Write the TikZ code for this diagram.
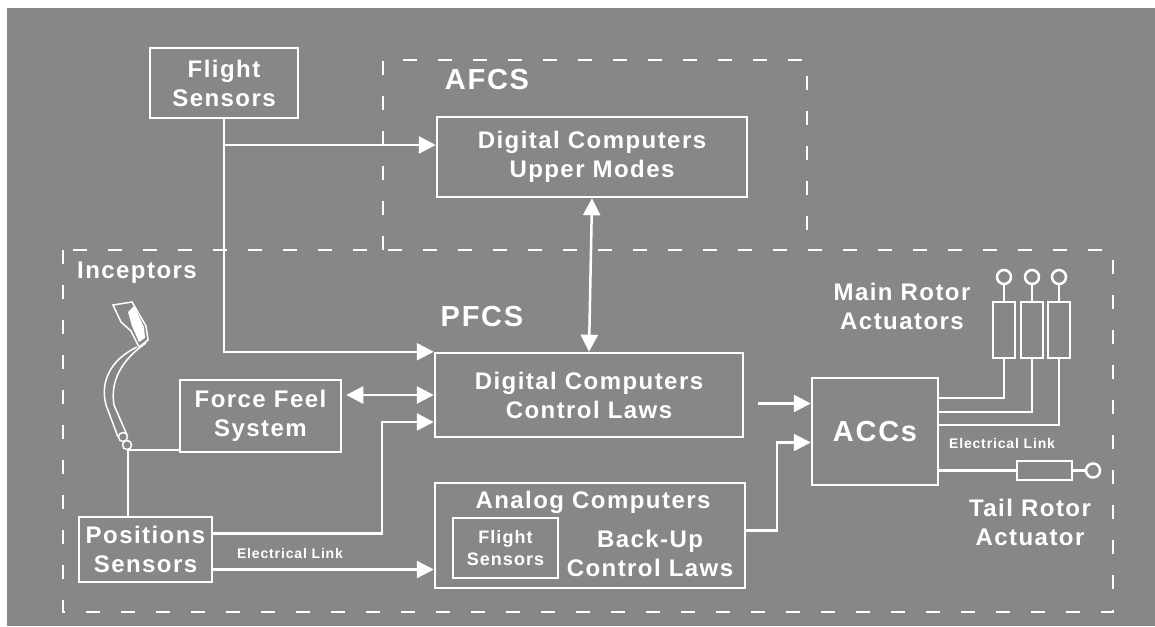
\documentclass[tikz,border=0pt]{standalone}
\usepackage{fontspec}
\usetikzlibrary{arrows.meta}
\newfontfamily\diagfont[LetterSpace=6]{Liberation Sans}
\newcommand{\boxfont}{\diagfont\bfseries\fontsize{24}{29}\selectfont}
\newcommand{\bigfont}{\diagfont\bfseries\fontsize{29}{32}\selectfont}
\newcommand{\smallfont}{\diagfont\bfseries\fontsize{18}{22}\selectfont}
\newcommand{\linkfont}{\diagfont\bfseries\fontsize{14}{16}\selectfont}
\definecolor{panel}{HTML}{878787}

\begin{document}
\begin{tikzpicture}[x=1pt, y=-1pt, line width=2.5pt, white,
    >={Triangle[length=17pt,width=17pt]},
    box/.style={draw, inner sep=0pt, align=center, font=\boxfont},
    lbl/.style={align=center, font=\boxfont},
    biglbl/.style={font=\bigfont},
    linklbl/.style={font=\linkfont},
    frame/.style={dash pattern=on 14pt off 21pt},
    stick/.style={line width=1.5pt},
    act/.style={draw, inner sep=0pt, minimum width=22, minimum height=56},
    pin/.style={draw, circle, inner sep=0pt, minimum size=14}]
    \useasboundingbox (0,0) rectangle (1155,626);
    \fill[panel] (7,8) rectangle (1155,626);

    % AFCS / PFCS frames
    \draw[frame] (383,250) -- (383,60) -- (807,60) -- (807,250);
    \draw[frame] (63,250) rectangle (1113,612);
    \node[biglbl] (afcs) at (487,80) {AFCS};
    \node[biglbl] (pfcs) at (482,317) {PFCS};
    \node[lbl] (incep) at (137,273) {Inceptors};

    % blocks
    \node[box, minimum width=148, minimum height=70] (fltsens) at (224,83) {Flight\\Sensors};
    \node[box, minimum width=310, minimum height=80] (upper) at (592,157) {Digital Computers\\Upper Modes};
    \node[box, minimum width=308, minimum height=84] (ctrllaws) at (589,395) {Digital Computers\\Control Laws};
    \node[box, minimum width=161, minimum height=72] (forcefeel) at (260.5,416) {Force Feel\\System};
    \node[box, minimum width=133, minimum height=65] (possens) at (145.5,549.5) {Positions\\Sensors};
    \node[box, minimum width=310, minimum height=105] (backup) at (590,535.5) {};
    \node[lbl] (analog) at (593,502) {Analog Computers};
    \node[box, font=\smallfont, minimum width=105, minimum height=60] (fltsens2) at (505.5,548) {Flight\\Sensors};
    \node[lbl] (backlaws) at (650,553) {Back-Up\\Control Laws};
    \node[box, font=\bigfont, minimum width=126, minimum height=107] (accs) at (875,431.5) {ACCs};

    % actuators
    \node[act] (act1) at (1004,330) {};
    \node[act] (act2) at (1032,330) {};
    \node[act] (act3) at (1059,330) {};
    \node[pin] (pin1) at (1004,277) {};
    \node[pin] (pin2) at (1032,277) {};
    \node[pin] (pin3) at (1059,277) {};
    \draw (pin1) -- (act1);
    \draw (pin2) -- (act2);
    \draw (pin3) -- (act3);
    \node[lbl] (mainlbl) at (902,306) {Main Rotor\\Actuators};
    \node[draw, inner sep=0pt, minimum width=55, minimum height=19] (tailact) at (1044.5,470.5) {};
    \node[pin] (pin4) at (1093,470.5) {};
    \draw (tailact) -- (pin4);
    \node[lbl] (taillbl) at (1030,522) {Tail Rotor\\Actuator};

    % inceptor stick
    \draw[stick] (113,305) -- (132,302) -- (146,326) -- (148,340) -- (139,347) -- (131,331) -- (121,322) -- cycle;
    \fill (128,312) -- (134,306) -- (144,327) -- (145,338) -- (139,342) -- (132,326) -- cycle;
    \draw[stick] (137,347) .. controls (110,360) and (100,382) .. (106,405) -- (118,437);
    \draw[stick] (146,343) .. controls (121,360) and (110,382) .. (114,405) -- (127,435);
    \draw[stick] (123,437) circle (4.5);
    \draw[stick] (127,445) circle (4.5);
    \coordinate (pivot) at (128,450);

    % connections
    \coordinate (upin) at ([yshift=12pt]upper.west);
    \draw[->] (fltsens.south) |- (ctrllaws.north west);
    \draw[->] (fltsens.south |- upin) -- (upin);
    \draw[<->] (upper.south) -- (ctrllaws.north);
    \draw[<->, shorten <=4pt] (forcefeel.east |- ctrllaws.west) -- (ctrllaws.west);
    \draw (pivot) -- (pivot -| forcefeel.west);
    \draw (pivot) -- (pivot |- possens.north);

    \coordinate (posout) at ([yshift=16pt]possens.east);
    \coordinate (ctrlin) at ([yshift=-27pt]ctrllaws.west);
    \draw[->] (posout) -| ([xshift=-52pt]ctrlin) -- (ctrlin);
    \coordinate (posout2) at ([yshift=-20pt]possens.east);
    \draw[->] (posout2) -- (posout2 -| backup.west);
    \node[linklbl] (link1) at (290,553) {Electrical Link};

    \coordinate (accsin1) at ([yshift=28pt]accs.west);
    \coordinate (accsin2) at ([yshift=-11pt]accs.west);
    \draw[->, shorten <=14pt] (ctrllaws.east |- accsin1) -- (accsin1);
    \draw[->] ([yshift=5pt]backup.east) -| ([xshift=-34pt]accsin2) -- (accsin2);

    \draw (act1.south) |- ([yshift=33.5pt]accs.east);
    \draw (act2.south) |- ([yshift=19.5pt]accs.east);
    \draw (act3.south) |- ([yshift=6.5pt]accs.east);
    \draw (accs.east |- tailact.west) -- (tailact.west);
    \node[linklbl] (link2) at (1002,443) {Electrical Link};
\end{tikzpicture}
\end{document}
